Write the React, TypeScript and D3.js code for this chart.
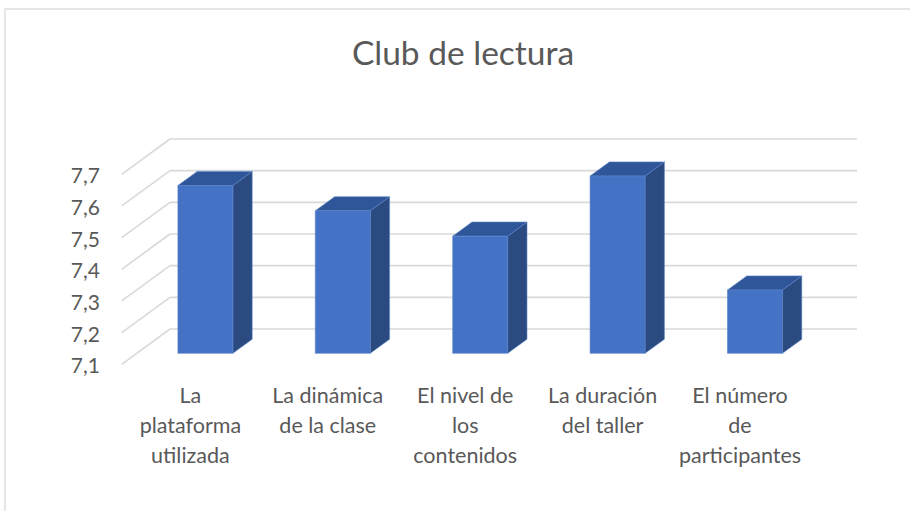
import React from "react";
import * as d3 from "d3";

const title = "Club de lectura";
const categories = [
  "La plataforma utilizada",
  "La dinámica de la clase",
  "El nivel de los contenidos",
  "La duración del taller",
  "El número de participantes",
];
const categoryLines = [
  ["La", "plataforma", "utilizada"],
  ["La dinámica", "de la clase"],
  ["El nivel de", "los", "contenidos"],
  ["La duración", "del taller"],
  ["El número", "de", "participantes"],
];
const values = [7.63, 7.55, 7.47, 7.66, 7.3];
const ticks = [7.1, 7.2, 7.3, 7.4, 7.5, 7.6, 7.7];

const W = 910;
const H = 511;
const FONT = "Lato, 'Open Sans', sans-serif";
const TEXT = "#595959";
const GRID = "#d9d9d9";

export default function App() {
  const x0 = 121.7;
  const plotW = 687;
  const depthDx = 48.3;
  const depthDy = -35.3;
  const barT0 = 0.31;
  const barT1 = 0.71;

  const x = d3
    .scaleBand<string>()
    .domain(categories)
    .range([x0, x0 + plotW])
    .paddingInner(0.6)
    .paddingOuter(0.3);
  const y = d3.scaleLinear().domain([7.1, 7.7]).range([364.3, 174.3]);

  const off = (t: number) => [depthDx * t, depthDy * t];
  const fmt = (v: number) => d3.format(".1f")(v).replace(".", ",");

  return (
    <svg
      width={W}
      height={H}
      style={{ position: "absolute", left: 0, top: 0, background: "#fff" }}
    >
      <rect x={5} y={9} width={920} height={520} fill="#fff" stroke={GRID} strokeWidth={1.3} />
      <text
        x={463}
        y={65}
        textAnchor="middle"
        fontFamily={FONT}
        fontSize={33.5}
        fill={TEXT}
      >
        {title}
      </text>
      {ticks.map((t) => {
        const yf = y(t);
        const [dx, dy] = off(1);
        return (
          <g key={t}>
            <line x1={x0} y1={yf} x2={x0 + dx} y2={yf + dy} stroke={GRID} strokeWidth={1.6} />
            <line
              x1={x0 + dx}
              y1={yf + dy}
              x2={x0 + plotW + dx}
              y2={yf + dy}
              stroke={GRID}
              strokeWidth={1.6}
            />
            <text
              x={100}
              y={yf + 9}
              textAnchor="end"
              fontFamily={FONT}
              fontSize={21}
              fill={TEXT}
            >
              {fmt(t)}
            </text>
          </g>
        );
      })}
      {categories.map((c, i) => {
        const v = values[i];
        const [ax, ay] = off(barT0);
        const [bx, by] = off(barT1);
        const l = (x(c) as number) + ax;
        const r = l + x.bandwidth();
        const top = y(v) + ay;
        const bot = y(7.1) + ay;
        const ddx = bx - ax;
        const ddy = by - ay;
        const front = `M${l},${top}L${r},${top}L${r},${bot}L${l},${bot}Z`;
        const side = `M${r},${top}L${r + ddx},${top + ddy}L${r + ddx},${bot + ddy}L${r},${bot}Z`;
        const topF = `M${l},${top}L${l + ddx},${top + ddy}L${r + ddx},${top + ddy}L${r},${top}Z`;
        return (
          <g key={c} stroke="#5a82c9" strokeWidth={0.6} strokeLinejoin="round">
            <path d={side} fill="#2a4a80" />
            <path d={topF} fill="#30569a" />
            <path d={front} fill="#4472c4" />
          </g>
        );
      })}
      {categories.map((c, i) => {
        const cx = (x(c) as number) + x.bandwidth() / 2;
        return (
          <text
            key={c}
            textAnchor="middle"
            fontFamily={FONT}
            fontSize={21.5}
            fill={TEXT}
          >
            {categoryLines[i].map((ln, j) => (
              <tspan key={j} x={cx} y={403 + j * 30}>
                {ln}
              </tspan>
            ))}
          </text>
        );
      })}
    </svg>
  );
}
